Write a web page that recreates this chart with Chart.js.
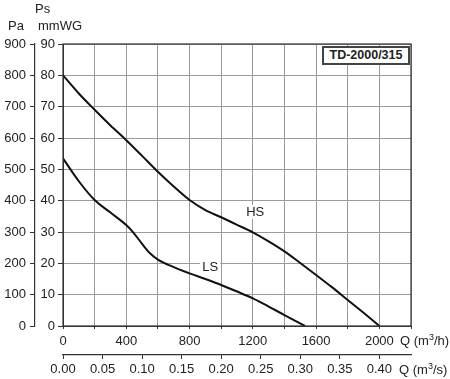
<!DOCTYPE html>
<html>
<head>
<meta charset="utf-8">
<script src="https://cdn.jsdelivr.net/npm/chart.js@4"></script>
<style>
  body { margin: 0; background: #fff; }
  #wrap { position: relative; width: 450px; height: 379px; font-family: "Liberation Sans", Arial, sans-serif; color: #222; }
  #wrap canvas { position: absolute; left: 0; top: 0; }
  .lbl { position: absolute; font-size: 13px; line-height: 16px; white-space: nowrap; }
  #model { position: absolute; left: 322px; top: 46px; width: 84px; height: 15px; border: 2px solid #444;
           background: #fff; font-weight: bold; font-size: 12.5px; line-height: 15px; text-align: center; }
</style>
</head>
<body>
<div id="wrap">
  <canvas id="chart" width="450" height="379"></canvas>
  <div class="lbl" style="left:35px;top:1px">Ps</div>
  <div class="lbl" style="left:8px;top:18px">Pa</div>
  <div class="lbl" style="left:38px;top:18px">mmWG</div>
  <div class="lbl" style="left:400px;top:333px">Q (m<sup style="font-size:9px;line-height:0">3</sup>/h)</div>
  <div class="lbl" style="left:399px;top:362px">Q (m<sup style="font-size:9px;line-height:0">3</sup>/s)</div>
  <div id="model">TD-2000/315</div>
</div>
<script>
// ── Data ─────────────────────────────────────────────────────────────────────
const hsFlow = [0, 100, 200, 300, 400, 500, 600, 700, 800, 900, 1000, 1100, 1200, 1300, 1400, 1500, 1600, 1700, 1800, 1900, 2000];
const hsPa   = [800, 742, 690, 640, 593, 543, 492, 445, 402, 370, 347, 323, 299, 270, 238, 201, 163, 124, 83, 42, 0];

const lsFlow = [0, 100, 200, 300, 400, 450, 500, 550, 600, 700, 800, 900, 1000, 1100, 1200, 1300, 1400, 1530];
const lsPa   = [535, 462, 402, 362, 322, 295, 262, 232, 212, 188, 168, 150, 131, 110, 88, 62, 35, 0];

// curve name labels (flow m3/h, pressure Pa)
const curveLabels = [
  { text: "HS", q: 1215, p: 364 },
  { text: "LS", q: 930,  p: 188 },
];

const FONT = { family: "'Liberation Sans', Arial, sans-serif", size: 13 };
const INK  = "#222";

const pts = (xs, ys) => xs.map((x, i) => ({ x, y: ys[i] }));

// ── Plot frame + curve names ─────────────────────────────────────────────────
const framePlugin = {
  id: "frame",
  afterDatasetsDraw(chart) {
    const { ctx, chartArea: a, scales } = chart;
    ctx.save();
    ctx.strokeStyle = "#333";
    ctx.lineWidth = 1.2;
    ctx.strokeRect(a.left, a.top, a.right - a.left, a.bottom - a.top);
    ctx.fillStyle = INK;
    ctx.font = "13px 'Liberation Sans', Arial, sans-serif";
    ctx.textAlign = "center";
    ctx.textBaseline = "middle";
    curveLabels.forEach(l => {
      const x = scales.x.getPixelForValue(l.q);
      const y = scales.y2.getPixelForValue(l.p);
      ctx.fillStyle = "#fff";
      ctx.fillRect(x - 10, y - 7, 20, 14);
      ctx.fillStyle = INK;
      ctx.fillText(l.text, x, y);
    });
    ctx.restore();
  }
};

const curve = (data) => ({
  data,
  yAxisID: "y2",
  borderColor: "#111",
  borderWidth: 2,
  pointRadius: 0,
  fill: false,
  cubicInterpolationMode: "monotone",
});

new Chart(document.getElementById("chart"), {
  type: "line",
  data: { datasets: [curve(pts(hsFlow, hsPa)), curve(pts(lsFlow, lsPa))] },
  options: {
    responsive: false,
    animation: false,
    devicePixelRatio: 1,
    layout: { padding: { top: 44, right: 39, left: 0, bottom: 0 } },
    plugins: { legend: { display: false }, tooltip: { enabled: false } },
    scales: {
      x: {
        type: "linear", position: "bottom", weight: 0,
        min: 0, max: 2200,
        afterFit: s => { s.height = 29; },
        grid: { color: "#9a9a9a", lineWidth: 1, tickLength: 3, tickColor: "#333" },
        border: { color: "#333" },
        ticks: { stepSize: 200, autoSkip: false, maxRotation: 0, padding: 5, color: INK, font: FONT,
                 callback: v => (v % 400 === 0 && v <= 2000) ? v : "" }
      },
      x2: {
        type: "linear", position: "bottom", weight: 1,
        min: 0, max: 0.44,
        afterFit: s => { s.height = 24; },
        grid: { drawOnChartArea: false, tickLength: 4, tickColor: "#333" },
        border: { color: "#333", width: 1.2 },
        ticks: { stepSize: 0.05, includeBounds: false, autoSkip: false, maxRotation: 0, padding: 3, color: INK, font: FONT,
                 callback: v => v.toFixed(2) }
      },
      y: {
        type: "linear", position: "left", weight: 0,
        min: 0, max: 90,
        afterFit: s => { s.width = 28; },
        grid: { color: "#9a9a9a", lineWidth: 1, tickLength: 5, tickColor: "#333" },
        border: { color: "#333" },
        ticks: { stepSize: 10, padding: 3, color: INK, font: FONT }
      },
      y2: {
        type: "linear", position: "left", weight: 1,
        min: 0, max: 900,
        afterFit: s => { s.width = 35; },
        grid: { drawOnChartArea: false, tickLength: 5, tickColor: "#333" },
        border: { color: "#333", width: 1.2 },
        ticks: { stepSize: 100, padding: 4, color: INK, font: FONT }
      }
    }
  },
  plugins: [framePlugin]
});
</script>
</body>
</html>
